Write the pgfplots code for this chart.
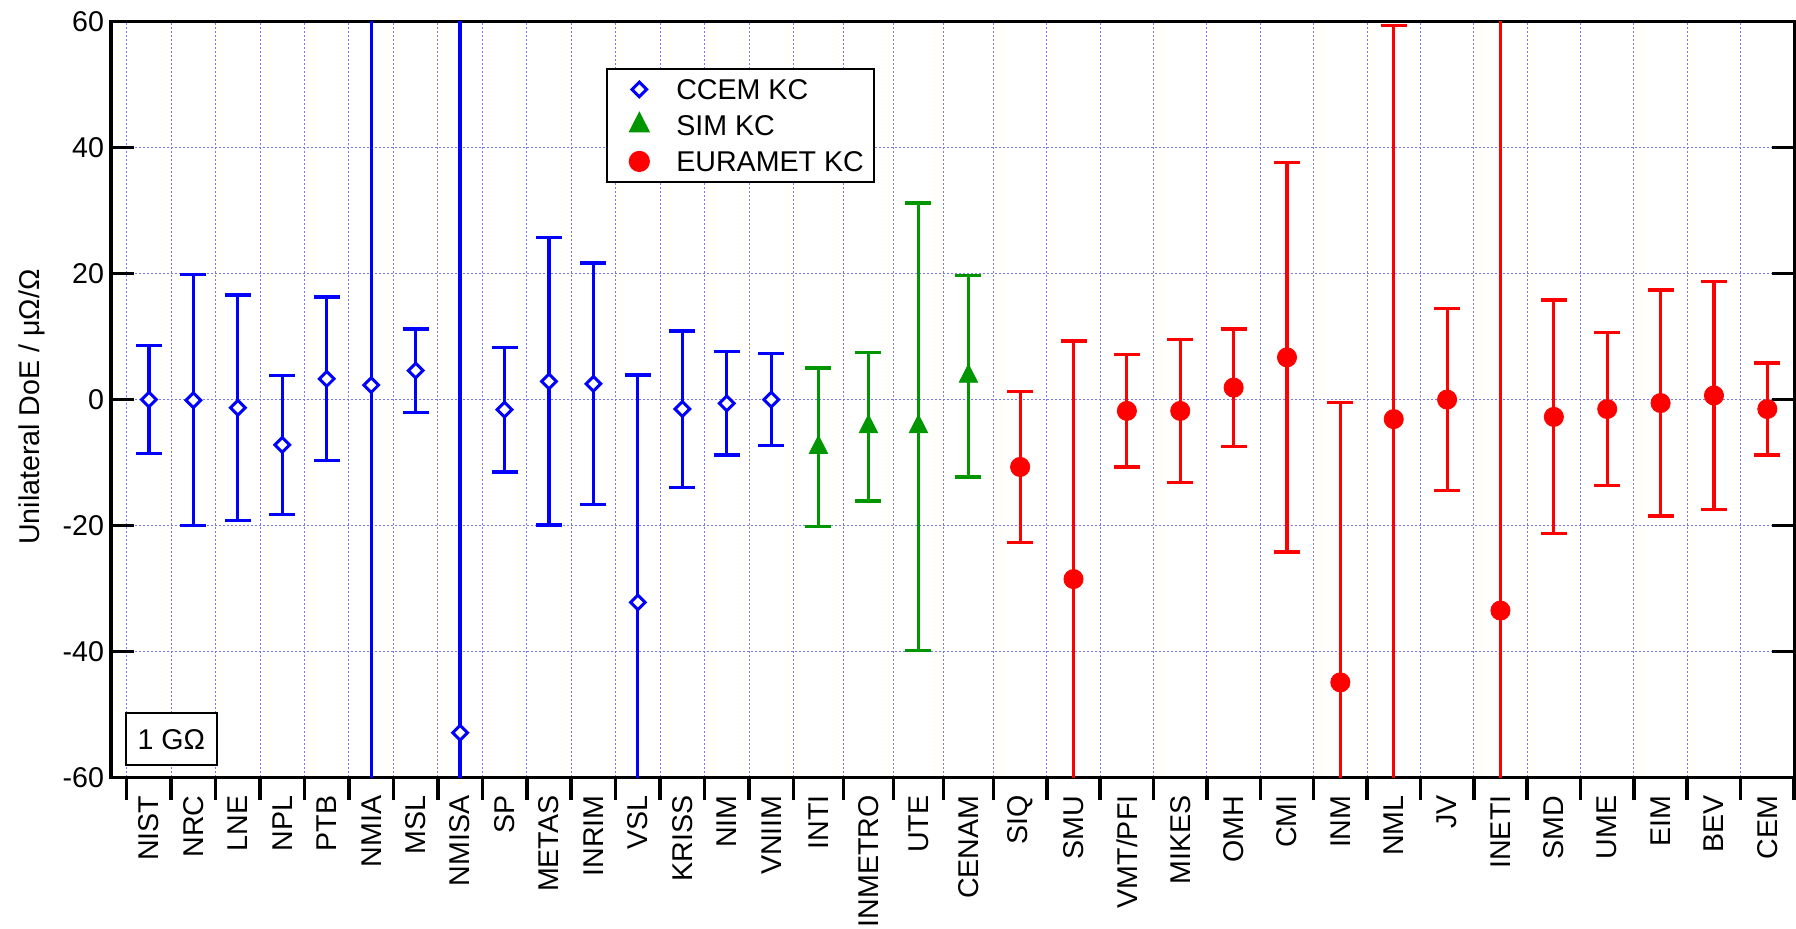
\documentclass[border=0pt]{standalone}
\usepackage{fontspec}
\setmainfont{Liberation Sans}
\usepackage{pgfplots}
\usepackage{pgfplotstable}
\pgfplotsset{compat=1.18}

\definecolor{ccem}{RGB}{0,0,255}
\definecolor{simgreen}{RGB}{0,150,0}
\definecolor{eurred}{RGB}{255,0,0}
\definecolor{gridblue}{RGB}{120,120,255}
\newcommand{\fs}{\fontsize{14.3}{17}\selectfont}

% x: position along the category axis, y: unilateral DoE, u: expanded uncertainty (all in uOhm/Ohm)
\pgfplotstableread{
x       y      u
148.93  0.0    8.6
193.38  -0.1   19.9
237.83  -1.3   17.9
282.28  -7.2   11.0
326.73  3.3    13.0
371.18  2.3    80.0
415.63  4.6    6.6
460.08  -52.9  120.0
504.53  -1.6   9.9
548.98  2.9    22.8
593.43  2.5    19.2
637.88  -32.2  36.1
682.33  -1.5   12.4
726.78  -0.6   8.2
771.23  0.0    7.3
}\ccemdata

\pgfplotstableread{
x       y      u
818.45  -7.6   12.6
868.45  -4.3   11.8
918.45  -4.3   35.5
968.45  3.7    16.0
}\simdata

\pgfplotstableread{
x        y      u
1020.14  -10.7  12.0
1073.51  -28.5  37.8
1126.88  -1.8   8.9
1180.25  -1.8   11.4
1233.62  1.9    9.3
1286.99  6.7    30.9
1340.36  -44.9  44.4
1393.73  -3.1   62.5
1447.10  0.0    14.4
1500.47  -33.5  100.0
1553.84  -2.75  18.55
1607.21  -1.5   12.2
1660.58  -0.55  17.95
1713.95  0.65   18.15
1767.32  -1.5   7.3
}\eurdata

\begin{document}
\begin{tikzpicture}[font=\fs]
\begin{axis}[
  name=ax, at={(0,0)}, anchor=south west,
  scale only axis, width=842pt, height=377.9pt,
  xmin=111, xmax=1795, ymin=-60, ymax=60,
  axis line style={line width=1.8pt, black},
  /pgf/number format/assume math mode=true,
  tick label style={font=\fs},
  ytick={-60,-40,...,60},
  xtick={148.93,193.38,237.83,282.28,326.73,371.18,415.63,460.08,504.53,548.98,593.43,637.88,682.33,726.78,771.23,
         818.45,868.45,918.45,968.45,
         1020.14,1073.51,1126.88,1180.25,1233.62,1286.99,1340.36,1393.73,1447.10,1500.47,1553.84,1607.21,1660.58,1713.95,1767.32},
  xticklabels={NIST,NRC,LNE,NPL,PTB,NMIA,MSL,NMISA,SP,METAS,INRIM,VSL,KRISS,NIM,VNIIM,
               INTI,INMETRO,UTE,CENAM,
               SIQ,SMU,VMT/PFI,MIKES,OMH,CMI,INM,NML,JV,INETI,SMD,UME,EIM,BEV,CEM},
  minor xtick={126.7,171.15,215.6,260.05,304.5,348.95,393.4,437.85,482.3,526.75,571.2,615.65,660.1,704.55,749.0,793.45,
               843.45,893.45,943.45,993.45,
               1046.82,1100.19,1153.56,1206.93,1260.3,1313.67,1367.04,1420.41,1473.78,1527.15,1580.52,1633.89,1687.26,1740.63,1794.0},
  xticklabel style={rotate=90, anchor=east},
  xticklabel shift=-6pt,
  xtick align=outside, ytick align=inside,
  major tick length=11.5pt, minor tick length=11.5pt,
  tick style={black, line width=1.8pt},
  major x tick style={draw=none},
  xtick pos=left, ytick pos=both, yticklabel pos=left,
  xmajorgrids=false, xminorgrids=true, ymajorgrids=true,
  major grid style={gridblue, line width=0.5pt, dash pattern=on 1pt off 1pt},
  minor grid style={gridblue, line width=0.5pt, dash pattern=on 1pt off 1pt},
  ylabel={Unilateral DoE / μΩ/Ω},
  ylabel style={at={(axis description cs:-0.047,0.49)}, anchor=center},
  legend cell align=left,
  legend image code/.code={%
    \path[draw=none] (0pt,0pt) -- (26.6pt,0pt);
    \draw[#1] plot coordinates {(13.3pt,0pt)};},
  legend style={at={(0.2938,0.9391)}, anchor=north west, draw=black, line width=1pt, fill=white,
    inner xsep=3pt, inner ysep=3.2pt, row sep=3.7pt, column sep=3.2pt,
    nodes={inner sep=2pt, text height=10.3pt, text depth=0pt}, font=\fs},
]

\addplot[only marks, color=ccem, mark=square*, mark size=2.6pt,
  mark options={rotate=45, draw=ccem, fill=white, line width=1.5pt},
  error bars/.cd, y dir=both, y explicit,
  error bar style={line width=1.6pt, ccem},
  error mark options={rotate=90, mark size=6.5pt, line width=1.6pt, ccem}]
  table[x=x, y=y, y error=u] {\ccemdata};
\addlegendentry{CCEM KC}

\addplot[only marks, color=simgreen, mark=triangle*, mark size=5.3pt,
  mark options={simgreen, fill=simgreen, draw=none, yscale=1.13},
  error bars/.cd, y dir=both, y explicit,
  error bar style={line width=1.6pt, simgreen},
  error mark options={rotate=90, mark size=6.5pt, line width=1.6pt, simgreen}]
  table[x=x, y=y, y error=u] {\simdata};
\addlegendentry{SIM KC}

\addplot[only marks, color=eurred, mark=*, mark size=4.8pt,
  mark options={eurred, fill=eurred, draw=none},
  error bars/.cd, y dir=both, y explicit,
  error bar style={line width=1.6pt, eurred},
  error mark options={rotate=90, mark size=6.5pt, line width=1.6pt, eurred}]
  table[x=x, y=y, y error=u] {\eurdata};
\addlegendentry{EURAMET KC}

\node[draw=black, line width=1pt, fill=white, inner xsep=5.8pt, inner ysep=8pt, font=\fs]
  at (rel axis cs:0.0358,0.0507) {1 GΩ};
\end{axis}
\pgfresetboundingbox
\path (-55.5pt,-75.75pt) rectangle (842.5pt,388.75pt);
\end{tikzpicture}
\end{document}
